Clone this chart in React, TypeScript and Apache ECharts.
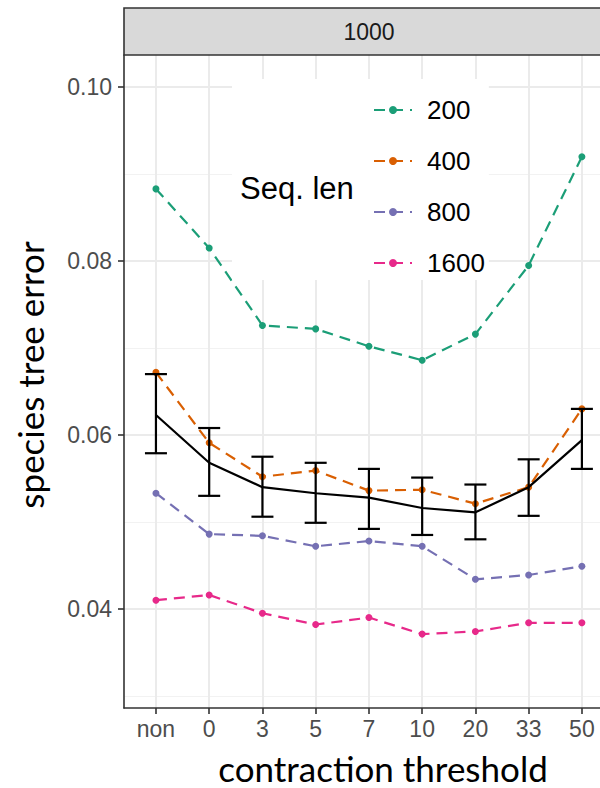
import React, { useEffect, useRef } from "react";
import * as echarts from "echarts";

const categories = ["non", "0", "3", "5", "7", "10", "20", "33", "50"];
const seqNames = ["200", "400", "800", "1600"];
const seqColors = ["#1B9E77", "#D95F02", "#7570B3", "#E7298A"];
const seq200 = [0.0883, 0.0815, 0.0726, 0.0722, 0.0702, 0.0686, 0.0716, 0.0795, 0.092];
const seq400 = [0.0672, 0.0591, 0.0552, 0.0559, 0.0536, 0.0537, 0.0521, 0.054, 0.063];
const seq800 = [0.0533, 0.0486, 0.0484, 0.0472, 0.0478, 0.0472, 0.0434, 0.0439, 0.0449];
const seq1600 = [0.041, 0.0416, 0.0395, 0.0382, 0.039, 0.0371, 0.0374, 0.0384, 0.0384];
const meanVals = [0.0623, 0.0568, 0.054, 0.0533, 0.0528, 0.0516, 0.0511, 0.054, 0.0594];
const errLow = [0.0579, 0.053, 0.0506, 0.0499, 0.0492, 0.0485, 0.048, 0.0507, 0.0561];
const errHigh = [0.067, 0.0608, 0.0575, 0.0568, 0.0561, 0.0551, 0.0543, 0.0572, 0.063];
const yMajorTicks = [0.04, 0.06, 0.08, 0.1];
const yMinorTicks = [0.03, 0.05, 0.07, 0.09];
const facetLabel = "1000";
const xTitle = "contraction threshold";
const yTitle = "species tree error";

const seqValues = [seq200, seq400, seq800, seq1600];

export default function App() {
  const ref = useRef<HTMLDivElement>(null);
  useEffect(() => {
    if (!ref.current) return;
    const chart = echarts.init(ref.current, null, { renderer: "svg" });
    const xIdx = categories.map((_, i) => i);
    const axisFont = "'Liberation Sans', Arial, sans-serif";
    const titleFont = "35px Lato, 'Open Sans', sans-serif";
    const lineSeries = seqNames.map((name, k) => ({
      name,
      type: "line",
      data: seqValues[k].map((v, i) => [i, v]),
      symbol: "circle",
      symbolSize: 7,
      showSymbol: true,
      color: seqColors[k],
      lineStyle: { type: [11, 7], width: 2.2, color: seqColors[k] },
      itemStyle: { color: seqColors[k] },
      z: 3,
    }));
    const option: any = {
      animation: false,
      backgroundColor: "#fff",
      grid: { left: 124, right: 0, top: 55, bottom: 80 },
      title: {
        text: "Seq. len",
        left: 235,
        top: 168,
        z: 10,
        textStyle: { fontFamily: axisFont, fontSize: 31, fontWeight: "normal", color: "#000" },
      },
      legend: {
        data: seqNames,
        orient: "vertical",
        left: 232,
        top: 79,
        padding: [18, 4, 4, 141],
        backgroundColor: "#fff",
        itemWidth: 38,
        itemHeight: 10,
        itemGap: 25,
        textStyle: {
          fontFamily: axisFont,
          fontSize: 26,
          color: "#000",
          lineHeight: 26,
          padding: [0, 0, 0, 10],
        },
        z: 5,
      },
      xAxis: {
        type: "value",
        min: -0.6,
        max: 8.34,
        axisLine: { show: true, onZero: false, lineStyle: { color: "#333", width: 1.6 } },
        axisTick: { show: true, length: 6, customValues: xIdx, lineStyle: { color: "#333", width: 1.6 } },
        axisLabel: {
          customValues: xIdx,
          formatter: (v: number) => categories[Math.round(v)],
          fontFamily: axisFont,
          fontSize: 23,
          color: "#4D4D4D",
          margin: 9,
        },
        splitLine: { show: true, lineStyle: { color: "#EBEBEB", width: 2 } },
      },
      yAxis: [
        {
          type: "value",
          min: 0.0286,
          max: 0.1037,
          axisLine: { show: true, onZero: false, lineStyle: { color: "#333", width: 1.6 } },
          axisTick: { show: true, length: 6, customValues: yMajorTicks, lineStyle: { color: "#333", width: 1.6 } },
          axisLabel: {
            customValues: yMajorTicks,
            formatter: (v: number) => v.toFixed(2),
            fontFamily: axisFont,
            fontSize: 23,
            color: "#4D4D4D",
            margin: 12,
          },
          splitLine: { show: true, lineStyle: { color: "#EBEBEB", width: 2 } },
          z: 1,
        },
        {
          type: "value",
          min: 0.0286,
          max: 0.1037,
          axisLine: { show: false },
          axisTick: { show: false, customValues: yMinorTicks },
          axisLabel: { show: false, customValues: yMinorTicks },
          splitLine: { show: true, lineStyle: { color: "#F2F2F2", width: 1.2 } },
          z: 0,
        },
      ],
      graphic: [
        {
          type: "rect",
          shape: { x: 124, y: 8, width: 500, height: 47 },
          style: { fill: "#D9D9D9", stroke: "#333", lineWidth: 1.6 },
          z: 10,
        },
        {
          type: "text",
          x: 369,
          y: 32,
          style: {
            text: facetLabel,
            fill: "#1A1A1A",
            font: "23px 'Liberation Sans', Arial, sans-serif",
            align: "center",
            verticalAlign: "middle",
          },
          z: 11,
        },
        {
          type: "text",
          x: 383,
          y: 768,
          style: { text: xTitle, fill: "#000", font: titleFont, align: "center", verticalAlign: "middle" },
          z: 11,
        },
        {
          type: "text",
          x: 30,
          y: 375,
          rotation: Math.PI / 2,
          style: { text: yTitle, fill: "#000", font: titleFont, align: "center", verticalAlign: "middle" },
          z: 11,
        },
      ],
      series: [
        ...lineSeries,
        {
          name: "mean",
          type: "line",
          data: meanVals.map((v, i) => [i, v]),
          showSymbol: false,
          symbol: "none",
          lineStyle: { color: "#000", width: 2.2 },
          itemStyle: { color: "#000" },
          z: 4,
        },
        {
          name: "err",
          type: "custom",
          data: categories.map((_, i) => [i, errLow[i], errHigh[i]]),
          encode: { x: 0, y: [1, 2] },
          z: 4,
          renderItem: (params: any, api: any) => {
            const x = api.value(0);
            const lo = api.coord([x, api.value(1)]);
            const hi = api.coord([x, api.value(2)]);
            const hw = 11;
            const st = { stroke: "#000", lineWidth: 2.2 };
            return {
              type: "group",
              children: [
                { type: "line", shape: { x1: lo[0], y1: lo[1], x2: hi[0], y2: hi[1] }, style: st },
                { type: "line", shape: { x1: lo[0] - hw, y1: lo[1], x2: lo[0] + hw, y2: lo[1] }, style: st },
                { type: "line", shape: { x1: hi[0] - hw, y1: hi[1], x2: hi[0] + hw, y2: hi[1] }, style: st },
              ],
            };
          },
        },
      ],
    };
    chart.setOption(option);
    return () => chart.dispose();
  }, []);
  return (
    <div
      ref={ref}
      style={{ position: "absolute", left: 0, top: 0, width: 600, height: 788 }}
    />
  );
}
